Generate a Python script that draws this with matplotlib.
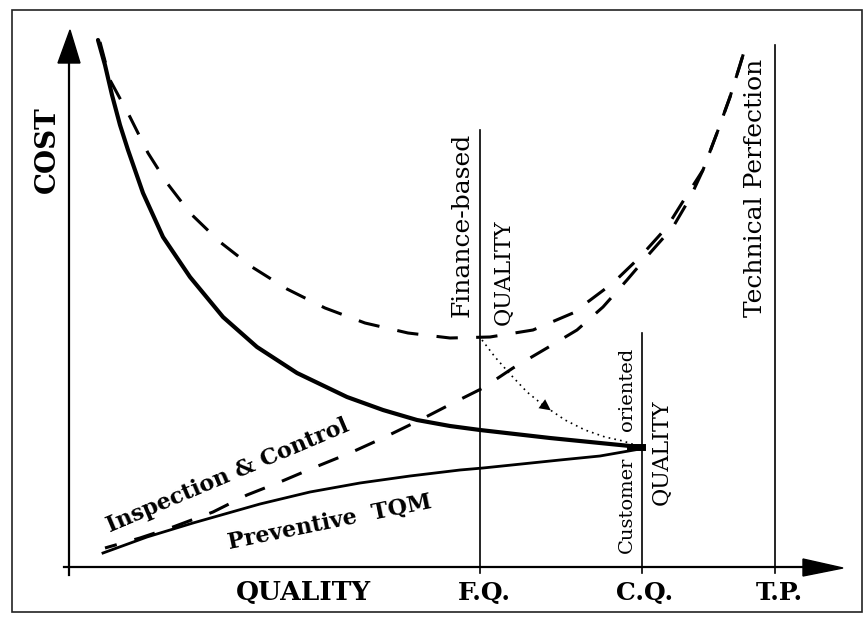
import numpy as np
import matplotlib.pyplot as plt
from matplotlib.patches import FancyArrowPatch, Polygon, Rectangle

plt.rcParams['font.family'] = ['DejaVu Serif']

# positions on the quality axis (in pixel units)
fq_x, cq_x, tp_x = 480, 642, 775
axis_y = 567

# cost curves, (x, y) points
solid_x = [98, 105, 112, 120, 128, 143, 163, 190, 223, 257, 297, 347, 383, 417, 450, 480, 550, 600, 640]
solid_y = [40, 65, 95, 125, 150, 193, 237, 277, 317, 347, 373, 397, 410, 420, 426, 430, 438, 443, 447]

u_x = [100, 110, 130, 148, 167, 190, 220, 252, 287, 325, 365, 408, 450, 490, 533, 573, 613, 640, 667, 687, 703, 717, 730, 740, 747]
u_y = [42, 80, 117, 153, 183, 213, 242, 267, 289, 308, 323, 333, 338, 337, 330, 313, 283, 257, 227, 195, 170, 133, 97, 65, 42]

insp_x = [105, 140, 173, 213, 247, 280, 313, 350, 383, 420, 453, 483, 513, 547, 577, 603, 627, 650, 673, 690, 703, 717, 730, 740, 747]
insp_y = [548, 538, 527, 512, 495, 482, 468, 453, 438, 420, 403, 388, 368, 348, 330, 307, 280, 253, 227, 198, 170, 133, 97, 65, 42]

prev_x = [103, 147, 193, 260, 310, 360, 410, 460, 483, 560, 600, 640]
prev_y = [553, 537, 523, 504, 492, 483, 476, 470, 468, 460, 456, 449]

dot_x = [482, 495, 510, 527, 543, 565, 585, 605, 623, 638]
dot_y = [340, 357, 374, 392, 405, 420, 430, 437, 441, 446]

fig = plt.figure(figsize=(8.68, 6.21), dpi=100)
ax = fig.add_axes([0, 0, 1, 1])
ax.set_xlim(0, 868)
ax.set_ylim(621, 0)
ax.axis('off')

# frame
ax.add_patch(Rectangle((12, 10), 850, 602, fill=False, lw=1.2, ec='#222222'))

# axes with arrows
ax.plot([69, 69], [575, 55], color='black', lw=1.6)
ax.add_patch(Polygon([[58, 63], [80, 63], [70, 30]], closed=True, color='black'))
ax.plot([64, 810], [axis_y, axis_y], color='black', lw=1.6)
ax.add_patch(Polygon([[803, 559], [803, 576], [843, 568]], closed=True, color='black'))

# vertical reference lines
ax.plot([fq_x, fq_x], [130, axis_y + 6], color='black', lw=1.2)
ax.plot([cq_x, cq_x], [333, axis_y + 6], color='black', lw=1.2)
ax.plot([tp_x, tp_x], [45, axis_y + 6], color='black', lw=1.2)

# curves
ax.plot(solid_x, solid_y, color='black', lw=3.0, solid_capstyle='round', solid_joinstyle='round')
ax.plot(u_x, u_y, color='black', lw=2.2, linestyle=(0, (7, 6)))
ax.plot(insp_x, insp_y, color='black', lw=2.2, linestyle=(3, (7, 6)))
ax.plot(prev_x, prev_y, color='black', lw=2.0, solid_joinstyle='round')
ax.plot(dot_x, dot_y, color='black', lw=1.2, linestyle=(0, (1, 2.5)))
ax.add_patch(FancyArrowPatch((530, 395), (553, 412), arrowstyle='-|>', mutation_scale=20,
                             color='black', lw=0))
ax.plot([cq_x - 12, cq_x], [447, 447], color='black', lw=5)

# labels
ax.text(47, 150, 'COST', rotation=90, fontsize=20, fontweight='bold', ha='center', va='center')
ax.text(303, 593, 'QUALITY', fontsize=19, fontweight='bold', ha='center', va='center')
ax.text(fq_x + 4, 593, 'F.Q.', fontsize=18, fontweight='bold', ha='center', va='center')
ax.text(cq_x + 3, 593, 'C.Q.', fontsize=18, fontweight='bold', ha='center', va='center')
ax.text(tp_x + 4, 593, 'T.P.', fontsize=18, fontweight='bold', ha='center', va='center')

ax.text(462, 225, 'Finance-based', rotation=90, fontsize=18, ha='center', va='center')
ax.text(504, 272, 'QUALITY', rotation=90, fontsize=16, ha='center', va='center')
ax.text(627, 389, 'oriented', rotation=90, fontsize=14, ha='center', va='center')
ax.text(627, 505, 'Customer', rotation=90, fontsize=14, ha='center', va='center')
ax.text(662, 452, 'QUALITY', rotation=90, fontsize=16, ha='center', va='center')
ax.text(756, 188, 'Technical Perfection', rotation=90, fontsize=18, ha='center', va='center')

ax.text(228, 476, 'Inspection & Control', rotation=23, fontsize=16, fontweight='bold',
        ha='center', va='center', rotation_mode='anchor')
ax.text(330, 522, 'Preventive  TQM', rotation=11.5, fontsize=16, fontweight='bold',
        ha='center', va='center', rotation_mode='anchor')

fig.savefig('out.png', dpi=100)
